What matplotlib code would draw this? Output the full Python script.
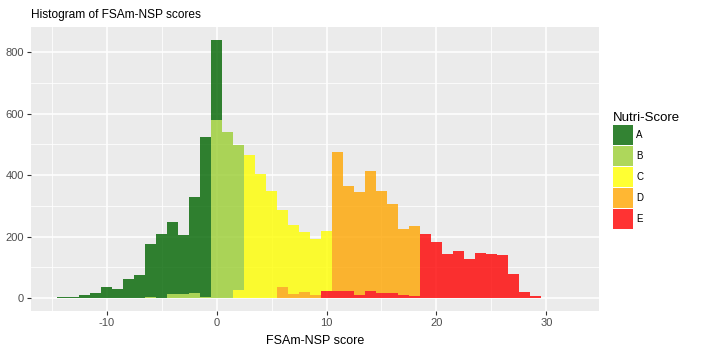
import matplotlib
matplotlib.use('Agg')
import numpy as np
import matplotlib.pyplot as plt
from matplotlib.patches import Patch

plt.rcParams['font.family'] = ['Liberation Sans', 'DejaVu Sans']

# FSAm-NSP score bins (width 1, centred on integers)
scores = list(range(-14, 31))

# counts per Nutri-Score grade, keyed by score
counts_a = {-14: 4, -13: 4, -12: 11, -11: 16, -10: 35, -9: 29, -8: 62, -7: 74,
            -6: 170, -5: 207, -4: 236, -3: 193, -2: 310, -1: 521, 0: 259}
counts_b = {-6: 5, -5: 1, -4: 12, -3: 12, -2: 18, -1: 4, 0: 581, 1: 540, 2: 474}
counts_c = {2: 25, 3: 464, 4: 404, 5: 347, 6: 252, 7: 223, 8: 193, 9: 182, 10: 195}
counts_d = {6: 36, 7: 14, 8: 21, 9: 11, 11: 453, 12: 344, 13: 334, 14: 393,
            15: 332, 16: 291, 17: 217, 18: 228}
counts_e = {10: 22, 11: 22, 12: 22, 13: 11, 14: 22, 15: 18, 16: 15, 17: 9, 18: 6,
            19: 207, 20: 183, 21: 145, 22: 153, 23: 127, 24: 148, 25: 144,
            26: 141, 27: 79, 28: 20, 29: 6}

grades = ['A', 'B', 'C', 'D', 'E']
grade_counts = [counts_a, counts_b, counts_c, counts_d, counts_e]
colors = ['darkgreen', 'yellowgreen', 'yellow', 'orange', 'red']

fig = plt.figure(figsize=(7.01, 3.51), dpi=100)
ax = fig.add_axes([31/701, 40/351, 568/701, 284/351])
ax.set_facecolor('#EBEBEB')

# stacked like ggplot: last level at the bottom, A on top
x = np.array(scores)
bottom = np.zeros(len(scores))
for grade, cnt, col in reversed(list(zip(grades, grade_counts, colors))):
    h = np.array([cnt.get(s, 0) for s in scores], dtype=float)
    ax.bar(x, h, width=1.0, bottom=bottom, color=col, alpha=0.8,
           linewidth=0, zorder=3)
    bottom += h

ax.set_xlim(-16.9, 34.8)
ax.set_ylim(-42, 882)
ax.set_xticks([-10, 0, 10, 20, 30])
ax.set_xticklabels(['-10', '0', '10', '20', '30'])
ax.set_yticks([0, 200, 400, 600, 800])
ax.set_xticks([-15, -5, 5, 15, 25], minor=True)
ax.set_yticks([100, 300, 500, 700], minor=True)
ax.grid(which='major', color='white', linewidth=1.1, zorder=0)
ax.grid(which='minor', color='white', linewidth=0.55, zorder=0)
ax.set_axisbelow(True)
for sp in ax.spines.values():
    sp.set_visible(False)
ax.tick_params(which='major', length=3, width=0.8, color='#333333',
               labelcolor='#4D4D4D', labelsize=8, pad=2)
ax.tick_params(which='minor', length=0)

ax.set_xlabel('FSAm-NSP score', fontsize=9, color='black', labelpad=5)
fig.text(31/701, 1 - 18/351, 'Histogram of FSAm-NSP scores', fontsize=8.6,
         color='black', ha='left', va='baseline')

handles = [Patch(facecolor=c, alpha=0.8, edgecolor='none') for c in colors]
leg = ax.legend(handles, grades, loc='upper left',
                bbox_to_anchor=(613/701, 1 - 112/351),
                bbox_transform=fig.transFigure, frameon=False, fontsize=7,
                title='Nutri-Score', title_fontsize=9.5, handlelength=2.06,
                handleheight=2.71, labelspacing=0.15, handletextpad=0.35,
                borderpad=0, borderaxespad=0, alignment='left')

plt.savefig('out.png', format='png', dpi=100)
plt.close()
